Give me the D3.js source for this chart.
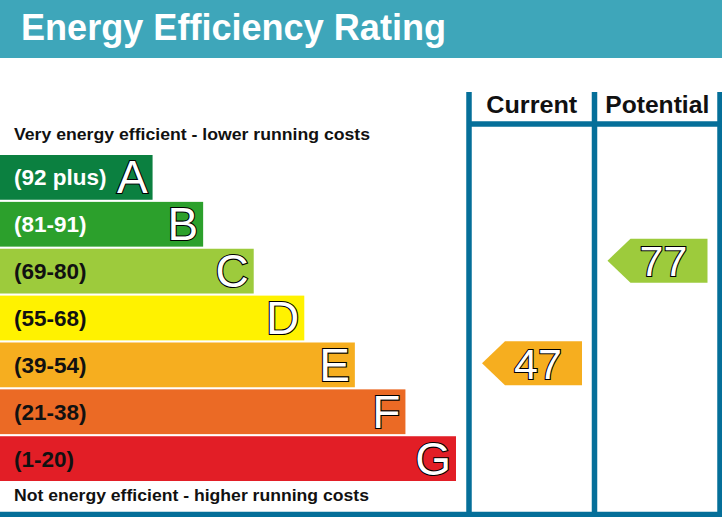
<!DOCTYPE html>
<html>
<head>
<meta charset="utf-8">
<script src="https://cdn.jsdelivr.net/npm/d3@7"></script>
<style>
  body { margin: 0; background: #fff; }
  svg { display: block; font-family: "Liberation Sans", Arial, sans-serif; }
</style>
</head>
<body>
<div id="chart"></div>
<script>
// rating bands, top (best) to bottom (worst)
var letters = ["A", "B", "C", "D", "E", "F", "G"];
var ranges = ["(92 plus)", "(81-91)", "(69-80)", "(55-68)", "(39-54)", "(21-38)", "(1-20)"];
var bandColors = ["#0b8040", "#2ca02c", "#9dcb3c", "#fff200", "#f6ae1f", "#eb6a25", "#e21e26"];
var labelColors = ["#fff", "#fff", "#111", "#111", "#111", "#111", "#111"];
var bandLength = [1, 2, 3, 4, 5, 6, 7];

var columns = ["Current", "Potential"];
var ratings = [47, 77];
var ratingBand = ["E", "C"];

var W = 722, H = 517;
var lineCol = "#056f99";

var svg = d3.select("#chart").append("svg")
  .attr("width", W).attr("height", H);

// title bar
svg.append("rect").attr("x", 0).attr("y", 0).attr("width", W).attr("height", 58)
  .attr("fill", "#3ea6ba");
svg.append("text").attr("x", 21).attr("y", 40)
  .attr("fill", "#fff").attr("font-weight", "bold").attr("font-size", 36)
  .attr("textLength", 425).attr("lengthAdjust", "spacingAndGlyphs")
  .text("Energy Efficiency Rating");

var y = d3.scaleBand().domain(letters).range([155, 481]).paddingInner(0.045);
var x = d3.scaleLinear().domain([0, 7]).range([102, 456]);

var bands = svg.selectAll("g.band").data(letters).enter().append("g")
  .attr("class", "band")
  .attr("transform", function(d) { return "translate(0," + y(d) + ")"; });

bands.append("rect")
  .attr("x", 0).attr("y", 0)
  .attr("width", function(d, i) { return x(bandLength[i]); })
  .attr("height", y.bandwidth())
  .attr("fill", function(d, i) { return bandColors[i]; });

bands.append("text")
  .attr("x", 14).attr("y", y.bandwidth() / 2 + 8)
  .attr("font-weight", "bold").attr("font-size", 22.5)
  .attr("fill", function(d, i) { return labelColors[i]; })
  .text(function(d, i) { return ranges[i]; });

bands.append("text")
  .attr("x", function(d, i) { return x(bandLength[i]) - 5; })
  .attr("y", y.bandwidth() / 2 + 16)
  .attr("text-anchor", "end")
  .attr("font-size", 46)
  .attr("fill", "#fff").attr("stroke", "#000").attr("stroke-width", 2.2)
  .attr("paint-order", "stroke")
  .text(function(d) { return d; });

svg.append("text").attr("x", 14).attr("y", 140)
  .attr("font-weight", "bold").attr("font-size", 17).attr("fill", "#111")
  .attr("textLength", 356).attr("lengthAdjust", "spacingAndGlyphs")
  .text("Very energy efficient - lower running costs");
svg.append("text").attr("x", 14).attr("y", 501)
  .attr("font-weight", "bold").attr("font-size", 17).attr("fill", "#111")
  .attr("textLength", 355).attr("lengthAdjust", "spacingAndGlyphs")
  .text("Not energy efficient - higher running costs");

// columns
var colX = d3.scaleBand().domain(columns).range([469, 720]);
var headLen = [91, 104];

svg.selectAll("text.colhead").data(columns).enter().append("text")
  .attr("class", "colhead")
  .attr("x", function(d) { return colX(d) + colX.bandwidth() / 2; })
  .attr("y", 113)
  .attr("text-anchor", "middle")
  .attr("font-weight", "bold").attr("font-size", 23.5).attr("fill", "#111")
  .attr("textLength", function(d, i) { return headLen[i]; })
  .attr("lengthAdjust", "spacingAndGlyphs")
  .text(function(d) { return d; });

var vlines = [colX(columns[0]), colX(columns[1]), colX(columns[1]) + colX.bandwidth()];
svg.selectAll("line.v").data(vlines).enter().append("line")
  .attr("x1", function(d) { return d; }).attr("x2", function(d) { return d; })
  .attr("y1", 92).attr("y2", H)
  .attr("stroke", lineCol).attr("stroke-width", 5.5);
svg.append("line").attr("x1", vlines[0]).attr("x2", W).attr("y1", 124).attr("y2", 124)
  .attr("stroke", lineCol).attr("stroke-width", 5.5);
svg.append("line").attr("x1", 0).attr("x2", W).attr("y1", 514.5).attr("y2", 514.5)
  .attr("stroke", lineCol).attr("stroke-width", 5.5);

// arrow vertical position follows the rating value
var ry = d3.scaleLinear().domain([0, 100]).range([524, 182]);
var aw = 100, ah = 44, tip = 23;

columns.forEach(function(c, i) {
  var cy = ry(ratings[i]);
  var x0 = colX(c) + 13;
  var col = bandColors[letters.indexOf(ratingBand[i])];
  var g = svg.append("g").attr("transform", "translate(" + x0 + "," + (cy - ah / 2) + ")");
  g.append("path")
    .attr("d", d3.line()([[0, ah / 2], [tip, 0], [aw, 0], [aw, ah], [tip, ah]]) + "Z")
    .attr("fill", col);
  g.append("text")
    .attr("x", 56).attr("y", ah / 2 + 15.5)
    .attr("text-anchor", "middle")
    .attr("font-size", 43)
    .attr("fill", "#fff").attr("stroke", "#000").attr("stroke-width", 2.2)
    .attr("paint-order", "stroke")
    .text(ratings[i]);
});
</script>
</body>
</html>
